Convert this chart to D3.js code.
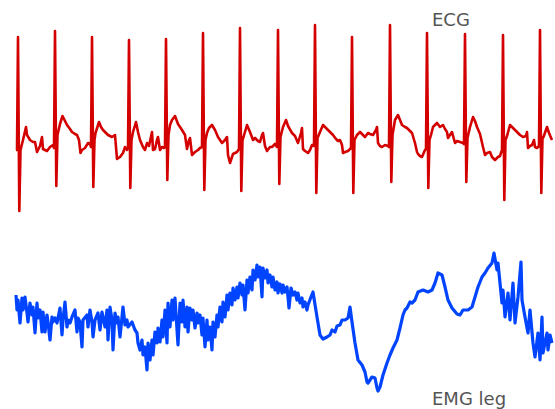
<!DOCTYPE html>
<html lang="en">
<head>
<meta charset="UTF-8">
<title>ECG / EMG</title>
<style>
  html, body { margin: 0; padding: 0; background: #fff; }
  svg { display: block; }
</style>
</head>
<body>
<div id="chart"></div>
<script src="https://d3js.org/d3.v7.min.js"></script>
<script>
// time in seconds, amplitude in mV
const ecgTime = [
  0.00, 0.02, 0.04, 0.066, 0.09, 0.14, 0.20, 0.22, 0.28, 0.34, 0.38, 0.42, 0.48, 0.52, 0.54, 0.62, 0.68, 0.74, 0.76,
  0.78, 0.806, 0.83, 0.88, 0.93, 0.98, 1.02, 1.08, 1.12, 1.18, 1.22, 1.26, 1.29, 1.32, 1.38, 1.44, 1.48, 1.50,
  1.52, 1.546, 1.57, 1.59, 1.66, 1.70, 1.74, 1.80, 1.84, 1.92, 1.98, 2.02, 2.08, 2.14, 2.18, 2.22, 2.24,
  2.26, 2.286, 2.31, 2.34, 2.40, 2.44, 2.48, 2.54, 2.58, 2.62, 2.66, 2.72, 2.74, 2.78, 2.82, 2.84, 2.88, 2.92, 2.96, 2.98,
  3.00, 3.026, 3.05, 3.08, 3.12, 3.18, 3.24, 3.32, 3.38, 3.42, 3.46, 3.48, 3.52, 3.58, 3.64, 3.68, 3.72,
  3.74, 3.766, 3.79, 3.82, 3.86, 3.92, 3.98, 4.04, 4.12, 4.18, 4.22, 4.24, 4.28, 4.30, 4.34, 4.38, 4.42, 4.46,
  4.48, 4.506, 4.53, 4.55, 4.62, 4.68, 4.74, 4.78, 4.84, 4.88, 4.92, 4.94, 4.98, 5.02, 5.08, 5.12, 5.18, 5.22,
  5.24, 5.266, 5.29, 5.34, 5.40, 5.44, 5.52, 5.58, 5.64, 5.70, 5.72, 5.74, 5.78, 5.84, 5.88, 5.92, 5.96,
  5.98, 6.006, 6.03, 6.08, 6.14, 6.22, 6.28, 6.34, 6.40, 6.44, 6.48, 6.52, 6.54, 6.58, 6.64, 6.70,
  6.72, 6.746, 6.77, 6.82, 6.88, 6.94, 6.98, 7.04, 7.08, 7.14, 7.20, 7.22, 7.24, 7.28, 7.32, 7.38, 7.44, 7.46,
  7.48, 7.506, 7.53, 7.58, 7.64, 7.72, 7.78, 7.82, 7.88, 7.92, 7.98, 8.02, 8.04, 8.08, 8.12, 8.18, 8.20,
  8.22, 8.246, 8.27, 8.30, 8.34, 8.42, 8.48, 8.54, 8.58, 8.62, 8.64, 8.68, 8.72, 8.78, 8.82, 8.88, 8.94, 8.96,
  8.98, 9.006, 9.03, 9.08, 9.14, 9.18, 9.22, 9.28, 9.34, 9.38, 9.42, 9.48, 9.52, 9.58, 9.64, 9.68, 9.72,
  9.74, 9.766, 9.79, 9.82, 9.88, 9.94, 9.98, 10.04, 10.08, 10.14, 10.20, 10.22, 10.24, 10.28, 10.32, 10.36, 10.38, 10.42, 10.46,
  10.48, 10.506, 10.53, 10.55, 10.62, 10.66, 10.72
];
const ecgMv = [
  -0.02, -0.02, 1.11, -0.63, -0.02, 0.08, 0.21, 0.13, 0.08, 0.06, 0.06, -0.04, 0.02, 0.11, -0.01, -0.03, 0.01, 0.03, 0.00,
  1.17, -0.38, 0.13, 0.24, 0.32, 0.27, 0.23, 0.19, 0.16, 0.14, 0.13, 0.08, -0.05, -0.02, 0.00, 0.05, 0.04, 0.01,
  1.11, -0.39, 0.08, 0.15, 0.26, 0.21, 0.18, 0.15, 0.13, 0.11, 0.13, -0.11, -0.09, -0.05, 0.01, -0.02, 0.00,
  1.08, -0.40, 0.08, 0.16, 0.26, 0.16, 0.08, 0.01, -0.02, 0.05, 0.02, 0.16, -0.02, -0.01, 0.08, 0.11, -0.02, 0.01, 0.00, 0.01,
  1.09, -0.32, 0.13, 0.23, 0.28, 0.32, 0.24, 0.18, 0.13, -0.01, 0.08, 0.10, -0.07, -0.04, -0.02, 0.00, 0.01,
  1.15, -0.42, 0.08, 0.15, 0.20, 0.23, 0.18, 0.11, 0.05, 0.08, 0.11, -0.07, -0.15, -0.12, -0.06, -0.05, -0.04, -0.01,
  1.20, -0.43, 0.08, 0.11, 0.23, 0.16, 0.08, 0.10, 0.07, 0.06, 0.13, 0.15, 0.02, -0.03, 0.01, 0.01, 0.04, 0.01,
  1.18, -0.36, 0.11, 0.21, 0.28, 0.22, 0.15, 0.12, 0.05, 0.15, 0.20, -0.01, -0.03, -0.05, -0.02, 0.03, 0.02,
  1.23, -0.45, 0.10, 0.16, 0.23, 0.19, 0.16, 0.13, 0.09, 0.07, 0.08, 0.03, -0.05, -0.04, -0.03, 0.00,
  1.11, -0.45, 0.08, 0.13, 0.16, 0.13, 0.11, 0.15, 0.14, 0.13, 0.18, 0.21, 0.05, 0.02, 0.01, 0.03, 0.02, 0.01,
  1.23, -0.34, 0.13, 0.28, 0.33, 0.23, 0.21, 0.20, 0.17, 0.15, 0.05, -0.04, -0.06, -0.08, -0.09, -0.02, -0.01,
  1.15, -0.40, 0.08, 0.13, 0.21, 0.25, 0.21, 0.23, 0.19, 0.16, 0.10, 0.13, 0.16, 0.05, 0.07, 0.06, 0.05, 0.04,
  1.14, -0.34, 0.10, 0.21, 0.31, 0.27, 0.21, 0.14, 0.01, -0.07, -0.05, -0.04, -0.09, -0.12, -0.09, -0.08, -0.02,
  1.13, -0.52, 0.08, 0.12, 0.23, 0.20, 0.18, 0.15, 0.13, 0.11, 0.12, 0.16, 0.00, 0.02, 0.03, 0.08, 0.01, 0.00, 0.02,
  1.18, -0.45, 0.10, 0.11, 0.21, 0.15, 0.08
];

const emgTime = [
  0.00, 0.02, 0.04, 0.08, 0.12, 0.14, 0.18, 0.22, 0.24, 0.28, 0.32, 0.34, 0.38, 0.42, 0.44, 0.48, 0.52, 0.54, 0.58, 0.62,
  0.64, 0.68, 0.72, 0.74, 0.78, 0.82, 0.88, 0.92, 0.94, 0.98, 1.02, 1.04, 1.08, 1.12, 1.18, 1.22, 1.24, 1.28, 1.32, 1.34,
  1.42, 1.44, 1.48, 1.52, 1.54, 1.58, 1.64, 1.68, 1.72, 1.78, 1.82, 1.84, 1.88, 1.92, 1.94, 1.98, 2.02, 2.04, 2.08, 2.14,
  2.18, 2.22, 2.24, 2.32, 2.38, 2.42, 2.44, 2.48, 2.52, 2.54, 2.58, 2.62, 2.64, 2.68, 2.72, 2.74, 2.78, 2.82, 2.84, 2.88,
  2.92, 2.94, 2.98, 3.02, 3.04, 3.08, 3.12, 3.14, 3.18, 3.22, 3.24, 3.28, 3.32, 3.34, 3.38, 3.42, 3.44, 3.48, 3.52, 3.54,
  3.58, 3.62, 3.64, 3.68, 3.72, 3.74, 3.78, 3.82, 3.84, 3.88, 3.92, 3.94, 3.98, 4.02, 4.04, 4.08, 4.12, 4.14, 4.18, 4.22,
  4.24, 4.28, 4.32, 4.34, 4.38, 4.42, 4.44, 4.48, 4.52, 4.54, 4.58, 4.62, 4.64, 4.68, 4.72, 4.74, 4.78, 4.82, 4.84, 4.88,
  4.92, 4.94, 4.98, 5.02, 5.04, 5.08, 5.12, 5.14, 5.18, 5.22, 5.24, 5.28, 5.32, 5.34, 5.38, 5.42, 5.44, 5.46, 5.50, 5.54,
  5.58, 5.62, 5.64, 5.68, 5.72, 5.74, 5.78, 5.82, 5.84, 5.90, 5.94, 6.02, 6.08, 6.14, 6.22, 6.28, 6.32, 6.38, 6.42, 6.48,
  6.52, 6.58, 6.64, 6.68, 6.72, 6.78, 6.84, 6.92, 6.98, 7.02, 7.04, 7.12, 7.18, 7.22, 7.24, 7.28, 7.34, 7.42, 7.48, 7.54,
  7.62, 7.68, 7.74, 7.78, 7.82, 7.88, 7.92, 7.98, 8.04, 8.14, 8.24, 8.32, 8.38, 8.44, 8.52, 8.58, 8.64, 8.72, 8.82, 8.88,
  8.94, 9.04, 9.12, 9.18, 9.24, 9.32, 9.38, 9.44, 9.52, 9.56, 9.62, 9.64, 9.68, 9.72, 9.74, 9.78, 9.84, 9.88, 9.94, 9.98,
  10.04, 10.10, 10.12, 10.18, 10.24, 10.28, 10.34, 10.38, 10.44, 10.48, 10.52, 10.54, 10.62, 10.64, 10.68, 10.72
];
const emgMv = [
  0.25, 0.10, 0.20, -0.03, 0.22, 0.10, 0.23, 0.07, -0.02, 0.17, 0.05, 0.13, -0.13, 0.17, 0.02, 0.10, -0.12, 0.08, -0.12, 0.05,
  -0.02, -0.20, 0.03, -0.02, 0.02, -0.03, 0.12, -0.15, 0.00, 0.18, -0.07, 0.00, -0.03, 0.03, 0.10, -0.12, 0.02, -0.02, -0.27, 0.00,
  0.05, -0.07, 0.10, -0.02, -0.17, 0.00, 0.07, -0.10, 0.08, -0.07, 0.10, -0.20, 0.13, 0.00, -0.30, 0.07, -0.03, 0.03, -0.17, 0.13,
  -0.05, 0.00, -0.07, -0.02, -0.10, -0.13, -0.23, -0.30, -0.20, -0.35, -0.27, -0.50, -0.23, -0.40, -0.20, -0.35, -0.12, -0.23, -0.08, -0.22,
  0.00, -0.17, 0.10, -0.23, 0.17, -0.07, 0.20, 0.00, 0.22, -0.10, -0.25, 0.17, -0.02, 0.20, -0.07, 0.13, -0.12, 0.12, 0.00, 0.10,
  -0.08, 0.07, -0.03, 0.05, -0.15, 0.02, -0.27, 0.00, -0.20, -0.07, -0.30, -0.02, -0.17, 0.05, -0.07, 0.13, -0.02, 0.18, 0.03, 0.25,
  0.10, 0.27, 0.15, 0.32, 0.20, 0.33, 0.22, 0.37, 0.25, 0.35, 0.10, 0.40, 0.27, 0.43, 0.30, 0.50, 0.40, 0.55, 0.43, 0.53,
  0.23, 0.52, 0.42, 0.50, 0.37, 0.45, 0.33, 0.43, 0.30, 0.38, 0.27, 0.36, 0.27, 0.35, 0.28, 0.33, 0.23, 0.12, 0.32, 0.25,
  0.28, 0.20, 0.27, 0.17, 0.22, 0.13, 0.18, 0.10, 0.15, 0.23, 0.28, 0.03, -0.15, -0.19, -0.17, -0.15, -0.10, -0.12, -0.06, -0.05,
  0.00, 0.00, 0.02, 0.13, -0.02, -0.23, -0.40, -0.45, -0.52, -0.62, -0.63, -0.57, -0.58, -0.68, -0.71, -0.67, -0.55, -0.43, -0.35, -0.28,
  -0.20, -0.08, 0.05, 0.10, 0.12, 0.18, 0.17, 0.20, 0.28, 0.30, 0.28, 0.30, 0.37, 0.47, 0.45, 0.33, 0.20, 0.12, 0.06, 0.05,
  0.10, 0.10, 0.13, 0.23, 0.33, 0.43, 0.47, 0.52, 0.57, 0.67, 0.50, 0.57, 0.37, 0.17, 0.30, 0.03, 0.27, 0.00, 0.37, -0.03,
  0.23, 0.58, 0.20, 0.03, -0.13, 0.10, -0.23, -0.37, -0.13, -0.40, 0.03, -0.33, -0.13, -0.30, -0.15, -0.23
];

const labels = ['ECG', 'EMG leg'];

const width = 555;
const height = 409;

const svg = d3.select('#chart').append('svg')
  .attr('width', width)
  .attr('height', height);

// shared time axis, one amplitude scale per trace
const x = d3.scaleLinear().domain([0, 10.72]).range([16, 552]);
const yEcg = d3.scaleLinear().domain([-0.7, 1.3]).range([218, 18]);
const yEmg = d3.scaleLinear().domain([-0.8, 0.8]).range([400, 240]);

const traces = [
  { t: ecgTime, v: ecgMv, y: yEcg, color: '#d40000', w: 2.6 },
  { t: emgTime, v: emgMv, y: yEmg, color: '#0044ff', w: 3.2 }
];

traces.forEach(tr => {
  const line = d3.line()
    .x(i => x(tr.t[i]))
    .y(i => tr.y(tr.v[i]));
  svg.append('path')
    .datum(d3.range(tr.t.length))
    .attr('fill', 'none')
    .attr('stroke', tr.color)
    .attr('stroke-width', tr.w)
    .attr('stroke-linejoin', 'round')
    .attr('d', line);
});

// trace labels
svg.selectAll('text.label')
  .data(labels)
  .enter()
  .append('text')
  .attr('class', 'label')
  .attr('x', 432)
  .attr('y', (d, i) => i === 0 ? 26 : 405)
  .attr('fill', '#555')
  .attr('font-family', 'DejaVu Sans, sans-serif')
  .attr('font-size', '18px')
  .text(d => d);
</script>
</body>
</html>
